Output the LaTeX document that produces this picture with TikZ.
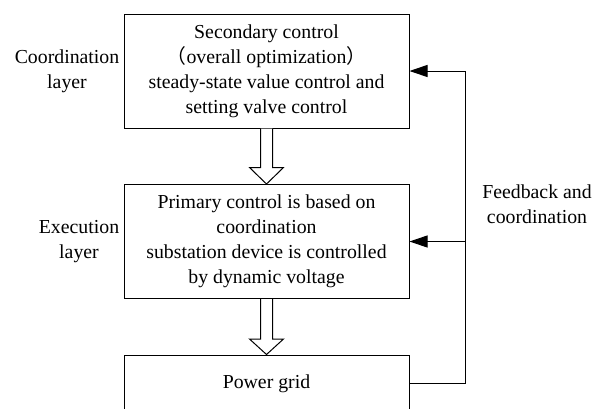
\documentclass[tikz,border=0pt]{standalone}
\usepackage{fontspec}
\setmainfont{Liberation Serif}
\newfontfamily\cjk{Noto Sans CJK SC}
\usetikzlibrary{arrows.meta,calc}
\tikzset{
  box/.style={draw, line width=1pt, minimum width=285pt, align=center, inner sep=0pt},
  lbl/.style={align=center, inner sep=0pt},
  fbarrow/.style={line width=1pt, -{Triangle[length=18pt,width=12pt]}},
  hollow/.style={draw, line width=1pt, fill=white, line join=miter}
}
\begin{document}
\begin{tikzpicture}[x=1pt,y=-1pt,font=\fontsize{19.8}{25}\selectfont]
\useasboundingbox[fill=white] (0,0) rectangle (599,408);
\clip (0,0) rectangle (599,408);
\node[box, minimum height=114pt] (b1) at (266.5,71) {Secondary control\\{\cjk（}overall optimization{\cjk）}\\steady-state value control and\\setting valve control};
\node[box, minimum height=114pt] (b2) at (266.5,241.5) {Primary control is based on\\coordination\\substation device is controlled\\by dynamic voltage};
\node[box, minimum height=57pt] (b3) at (266.5,383.5) {Power grid};
\node[lbl] (l1) at (67,71.5) {Coordination\\layer};
\node[lbl] (l2) at (79,242) {Execution\\layer};
\node[lbl] (l3) at (537,204.5) {Feedback and\\coordination};
\coordinate (fb) at (465,383);
% hollow arrows
\path[hollow] ($(b1.south)+(-6,0)$) -- ($(b1.south)+(-6,39)$) -- ($(b1.south)+(-17,39)$) -- (b2.north) -- ($(b1.south)+(17,39)$) -- ($(b1.south)+(6,39)$) -- ($(b1.south)+(6,0)$);
\path[hollow] ($(b2.south)+(-6,0)$) -- ($(b2.south)+(-6,40)$) -- ($(b2.south)+(-17,40)$) -- (b3.north) -- ($(b2.south)+(17,40)$) -- ($(b2.south)+(6,40)$) -- ($(b2.south)+(6,0)$);
% feedback
\draw[fbarrow] (b3.east) -- (fb |- b3.east) -- (fb |- b1.east) -- (b1.east);
\draw[fbarrow] (fb |- b2.east) -- (b2.east);
\end{tikzpicture}
\end{document}
